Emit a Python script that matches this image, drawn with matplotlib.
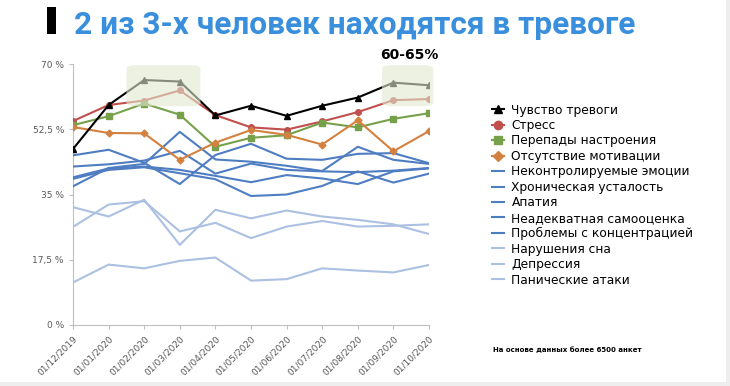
import matplotlib
matplotlib.use('Agg')
from matplotlib import pyplot as plt
from matplotlib.patches import FancyBboxPatch, Rectangle

# Dates (x categories)
dates = ['01/12/2019', '01/01/2020', '01/02/2020', '01/03/2020', '01/04/2020', '01/05/2020',
         '01/06/2020', '01/07/2020', '01/08/2020', '01/09/2020', '01/10/2020']

# Series values, % of respondents
anxiety = [47.2, 59.0, 65.7, 65.3, 56.2, 58.8, 56.1, 58.8, 61.0, 65.0, 64.3]
stress = [54.7, 59.0, 60.2, 62.9, 56.3, 53.0, 52.4, 54.6, 57.1, 60.3, 60.6]
mood_swings = [53.6, 56.0, 59.4, 56.4, 47.8, 50.2, 50.9, 54.3, 53.0, 55.3, 56.8]
no_motivation = [53.1, 51.5, 51.4, 44.3, 48.9, 52.3, 51.0, 48.4, 54.9, 46.6, 52.0]
emotions = [45.5, 47.0, 43.5, 37.8, 45.6, 48.6, 44.6, 44.3, 45.9, 46.1, 43.4]
fatigue = [37.2, 42.1, 43.2, 51.8, 44.4, 43.8, 42.7, 41.3, 47.8, 44.3, 43.2]
apathy = [42.5, 43.1, 44.1, 46.7, 40.6, 43.3, 41.6, 41.2, 41.0, 41.4, 42.1]
self_esteem = [39.6, 42.0, 42.5, 41.6, 40.0, 38.3, 40.2, 39.3, 37.8, 41.2, 42.0]
concentration = [39.2, 41.6, 42.3, 40.7, 39.1, 34.6, 35.0, 37.3, 41.2, 38.2, 40.6]
sleep = [31.6, 29.1, 33.6, 21.5, 30.9, 28.6, 30.7, 29.1, 28.2, 27.0, 24.4]
depression = [26.3, 32.3, 33.2, 25.1, 27.4, 23.3, 26.4, 27.9, 26.4, 26.6, 27.0]
panic = [11.4, 16.2, 15.2, 17.2, 18.1, 11.9, 12.3, 15.2, 14.6, 14.1, 16.1]

yticks = [0, 17.5, 35, 52.5, 70]
ytick_labels = ['0 %', '17,5 %', '35 %', '52,5 %', '70 %']

fig = plt.figure(figsize=(7.3, 3.86), dpi=100)
ax = fig.add_axes([73 / 730, 61 / 386, 356 / 730, 261 / 386])

x = list(range(len(dates)))
dark_blue = '#4f7dc2'
light_blue = '#abc0e2'

ax.plot(x, anxiety, color='black', lw=1.5, marker='^', ms=4, label='Чувство тревоги', zorder=6)
ax.plot(x, stress, color='#c0504d', lw=1.5, marker='o', ms=4, label='Стресс', zorder=5)
ax.plot(x, mood_swings, color='#77a04a', lw=1.5, marker='s', ms=4, label='Перепады настроения', zorder=5)
ax.plot(x, no_motivation, color='#d4813f', lw=1.5, marker='D', ms=3.5, label='Отсутствие мотивации', zorder=5)
ax.plot(x, emotions, color=dark_blue, lw=1.5, label='Неконтролируемые эмоции', zorder=3)
ax.plot(x, fatigue, color=dark_blue, lw=1.5, label='Хроническая усталость', zorder=3)
ax.plot(x, apathy, color=dark_blue, lw=1.5, label='Апатия', zorder=3)
ax.plot(x, self_esteem, color=dark_blue, lw=1.5, label='Неадекватная самооценка', zorder=3)
ax.plot(x, concentration, color=dark_blue, lw=1.5, label='Проблемы с концентрацией', zorder=3)
ax.plot(x, sleep, color=light_blue, lw=1.5, label='Нарушения сна', zorder=2)
ax.plot(x, depression, color=light_blue, lw=1.5, label='Депрессия', zorder=2)
ax.plot(x, panic, color=light_blue, lw=1.5, label='Панические атаки', zorder=2)

# highlight boxes drawn over the lines
for x0, x1 in [(1.5, 3.58), (8.68, 10.12)]:
    box = FancyBboxPatch((x0, 58.7), x1 - x0, 11.0, boxstyle='round,pad=0,rounding_size=0.25',
                         facecolor='#e2e9d0', edgecolor='none', alpha=0.6, zorder=7,
                         mutation_aspect=4, clip_on=False)
    ax.add_patch(box)
ax.text(9.45, 72.3, '60-65%', fontsize=10, fontweight='bold', ha='center', va='center')

ax.set_xlim(0, 10)
ax.set_ylim(0, 70)
ax.set_xticks(x)
ax.set_xticklabels(dates, rotation=45, ha='right', rotation_mode='anchor', fontsize=6.5, color='#595959')
ax.set_yticks(yticks)
ax.set_yticklabels(ytick_labels, fontsize=6.5, color='#595959')
ax.tick_params(axis='both', length=3, color='#bfbfbf', width=0.8)
for s in ['top', 'right']:
    ax.spines[s].set_visible(False)
for s in ['left', 'bottom']:
    ax.spines[s].set_color('#bfbfbf')
    ax.spines[s].set_linewidth(0.8)

ax.legend(loc='upper left', bbox_to_anchor=(1.163, 0.867), frameon=False, fontsize=8.8,
          handlelength=1.0, handletextpad=0.6, labelspacing=0.2, borderaxespad=0, markerscale=1.5)

# title
fig.patches.append(Rectangle((47 / 730, 1 - 34 / 386), 9 / 730, 27 / 386, transform=fig.transFigure,
                             facecolor='black', edgecolor='none'))
fig.text(74 / 730, 1 - 34 / 386, '2 из 3-х человек находятся в тревоге', fontsize=22.8,
         fontweight='bold', color='#3a8fdc', family='Roboto', ha='left', va='baseline')

fig.text(493 / 730, 1 - 350 / 386, 'На основе данных более 6500 анкет', fontsize=5.0,
         fontweight='bold', ha='left', va='center')

# thin grey frame strips at bottom and right
fig.patches.append(Rectangle((0, 0), 1, 4 / 386, transform=fig.transFigure, facecolor='#eeeeee', edgecolor='none'))
fig.patches.append(Rectangle((1 - 4 / 730, 0), 4 / 730, 1, transform=fig.transFigure, facecolor='#eeeeee', edgecolor='none'))

plt.savefig('out.png', dpi=100)
